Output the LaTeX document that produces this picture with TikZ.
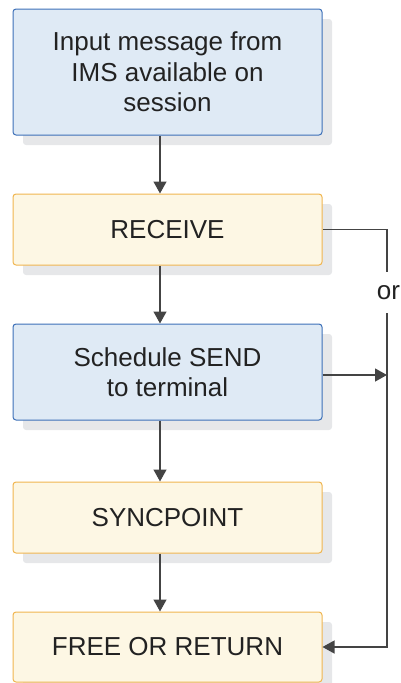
\documentclass[tikz,border=0pt]{standalone}
\usepackage{fontspec}
\setmainfont{Liberation Sans}
\usetikzlibrary{arrows.meta}
\definecolor{bluefill}{HTML}{DFEAF5}
\definecolor{blueline}{HTML}{3D70B8}
\definecolor{yelfill}{HTML}{FDF7E4}
\definecolor{yelline}{HTML}{F0B550}
\definecolor{shade}{HTML}{E6E7E9}
\definecolor{conn}{HTML}{444444}
\definecolor{txt}{HTML}{222222}
\tikzset{
  box/.style={rectangle, rounded corners=3pt, line width=1pt, minimum width=309pt,
    align=center, text=txt, font=\fontsize{26}{30.5}\selectfont, inner sep=0pt,
    preaction={fill=shade, draw=none, transform canvas={shift={(10pt,-10pt)}}}},
  bluebox/.style={box, draw=blueline, fill=bluefill},
  yelbox/.style={box, draw=yelline, fill=yelfill},
  arr/.style={draw=conn, line width=1.3pt, -{Triangle[length=12pt,width=13pt]}},
  ln/.style={draw=conn, line width=1.3pt}
}
\begin{document}
\begin{tikzpicture}[x=1pt,y=-1pt]
\useasboundingbox (0,0) rectangle (400,683);
\node[bluebox, minimum height=126pt] (b1) at (167.5,72) {Input message from\\IMS available on\\session};
\node[yelbox, minimum height=71pt] (b2) at (167.5,229.5) {RECEIVE};
\node[bluebox, minimum height=96pt] (b3) at (167.5,372) {Schedule SEND\\to terminal};
\node[yelbox, minimum height=71pt] (b4) at (167.5,517.5) {SYNCPOINT};
\node[yelbox, minimum height=70pt] (b5) at (167.5,647) {FREE OR RETURN};
\coordinate (ax) at (160,0);
\coordinate (rx) at (387,0);
\coordinate (c1) at (387,272);
\coordinate (c2) at (387,313);
\node[text=txt, font=\fontsize{26}{30.5}\selectfont, inner sep=0pt] (or) at (388.5,293) {or};
\draw[arr] (b1.south -| ax) -- (b2.north -| ax);
\draw[arr] (b2.south -| ax) -- (b3.north -| ax);
\draw[arr] (b3.south -| ax) -- (b4.north -| ax);
\draw[arr] (b4.south -| ax) -- (b5.north -| ax);
\draw[ln] (b2.east) -| (c1);
\draw[arr] ([yshift=-3pt]b3.east) -- ([yshift=-3pt]b3.east -| rx);
\draw[arr] (c2) |- (b5.east);
\end{tikzpicture}
\end{document}
